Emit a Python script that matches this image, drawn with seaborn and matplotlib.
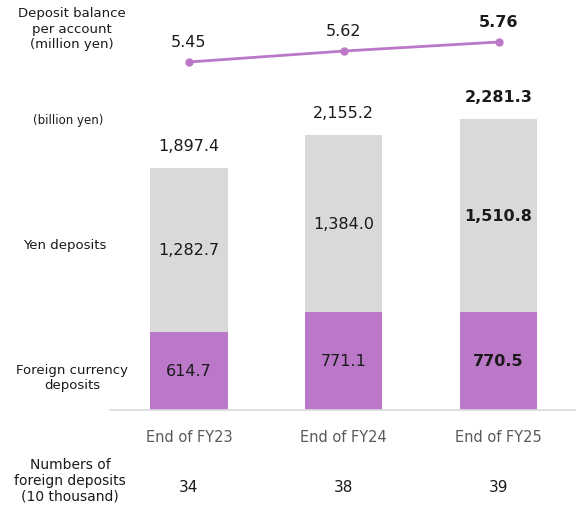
import matplotlib
matplotlib.use("Agg")
import matplotlib.pyplot as plt
import seaborn as sns
import pandas as pd

anni = ["End of FY23", "End of FY24", "End of FY25"]
estero = [614.7, 771.1, 770.5]
yen = [1282.7, 1384.0, 1510.8]
totali = [1897.4, 2155.2, 2281.3]
saldo_medio = [5.45, 5.62, 5.76]
num_depositi = [34, 38, 39]

VIOLA = "#BB78C8"
GRIGIO = "#D9D9D9"
TESTO = "#1A1A1A"

sns.set_theme(style="white")
plt.rcParams["font.family"] = ["DejaVu Sans"]

df = pd.DataFrame({"anno": anni, "estero": estero, "yen": yen, "totale": totali,
                   "saldo": saldo_medio, "pos": range(len(anni))})

fig = plt.figure(figsize=(5.76, 5.06), dpi=100)
W, H = 576, 506

def px(x0, y0, x1, y1):
    # rettangolo in pixel -> coordinate figura
    return [x0 / W, 1 - y1 / H, (x1 - x0) / W, (y1 - y0) / H]

# barre impilate
ax = fig.add_axes(px(110, 100, 576, 411))
sns.barplot(data=df, x="anno", y="totale", color=GRIGIO, width=0.5, saturation=1,
            linewidth=0, ax=ax)
sns.barplot(data=df, x="anno", y="estero", color=VIOLA, width=0.5, saturation=1,
            linewidth=0, ax=ax)
ax.set_xlim(-0.51, 2.5)
ax.set_ylim(0, 2437)
ax.set_xlabel("")
ax.set_ylabel("")
ax.set_yticks([])
for s in ["top", "right", "left"]:
    ax.spines[s].set_visible(False)
ax.spines["bottom"].set_color(GRIGIO)
ax.spines["bottom"].set_linewidth(1.2)
ax.tick_params(axis="x", length=0, pad=14, labelsize=10.5, labelcolor="#595959")

for i in range(len(anni)):
    peso = "bold" if i == len(anni) - 1 else "normal"
    ax.text(i, estero[i] / 2, f"{estero[i]:,.1f}", ha="center", va="center",
            fontsize=11.5, color=TESTO, fontweight=peso)
    ax.text(i, estero[i] + yen[i] / 2, f"{yen[i]:,.1f}", ha="center", va="center",
            fontsize=11.5, color=TESTO, fontweight=peso)
    ax.annotate(f"{totali[i]:,.1f}", (i, totali[i]), xytext=(0, 16), textcoords="offset points",
                ha="center", va="center", fontsize=11.5, color=TESTO, fontweight=peso)
    ax.text(i, -603, f"{num_depositi[i]}", ha="center", va="center",
            fontsize=11, color=TESTO, clip_on=False)

# linea saldo per conto
ax2 = fig.add_axes(px(110, 10, 576, 90))
sns.lineplot(data=df, x="pos", y="saldo", color=VIOLA, marker="o", markersize=6,
             markeredgewidth=0, linewidth=2, ax=ax2)
ax2.set_xlim(-0.51, 2.5)
ax2.set_ylim(5.031, 6.272)
ax2.axis("off")
for i in range(len(anni)):
    peso = "bold" if i == len(anni) - 1 else "normal"
    ax2.annotate(f"{saldo_medio[i]:.2f}", (i, saldo_medio[i]), xytext=(0, 15),
                 textcoords="offset points", ha="center", va="center",
                 fontsize=11.5, color=TESTO, fontweight=peso)

# etichette a sinistra
fig.text(72 / W, 1 - 29 / H, "Deposit balance\nper account\n(million yen)", ha="center",
         va="center", fontsize=9.5, color=TESTO, linespacing=1.25)
fig.text(68 / W, 1 - 121 / H, "(billion yen)", ha="center", va="center", fontsize=8.5, color=TESTO)
fig.text(65 / W, 1 - 246 / H, "Yen deposits", ha="center", va="center", fontsize=9.5, color=TESTO)
fig.text(72 / W, 1 - 378 / H, "Foreign currency\ndeposits", ha="center", va="center",
         fontsize=9.5, color=TESTO, linespacing=1.2)
fig.text(70 / W, 1 - 481 / H, "Numbers of\nforeign deposits\n(10 thousand)", ha="center",
         va="center", fontsize=10, color=TESTO, linespacing=1.15)

fig.savefig("out.png", dpi=100)
